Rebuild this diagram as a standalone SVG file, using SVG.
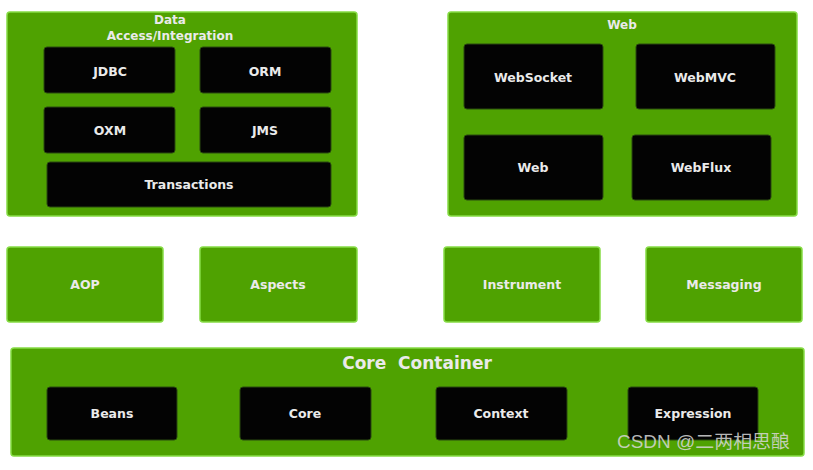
<svg xmlns="http://www.w3.org/2000/svg" width="813" height="470" viewBox="0 0 813 470">
<style>
.grp{fill:#4fa201;stroke:#86dc45;stroke-width:1.5}
.mod{fill:#4fa201;stroke:#86dc45;stroke-width:1.5}
.blk{fill:#030303;stroke:#2a4a10;stroke-width:1}
text{font-family:"DejaVu Sans","Liberation Sans",sans-serif;font-weight:bold;fill:#eaeaea;text-anchor:middle;dominant-baseline:central}
.t{font-size:12.5px}
.h{font-size:12px}
.big{font-size:17px}
.wm{font-family:"Liberation Sans","Noto Sans CJK SC",sans-serif;font-weight:normal;font-size:18px;fill:#d8d8d8;fill-opacity:0.85;text-anchor:start}
</style>
<rect width="813" height="470" fill="#ffffff"/>
<g id="data-access">
<rect class="grp" x="7" y="12" width="350" height="204" rx="3"/>
<text class="h" x="170" y="20">Data</text>
<text class="h" x="170" y="36">Access/Integration</text>
</g>
<g id="jdbc"><rect class="blk" x="44" y="47" width="131" height="46" rx="3"/><text class="t" x="110" y="71">JDBC</text></g>
<g id="orm"><rect class="blk" x="200" y="47" width="131" height="46" rx="3"/><text class="t" x="265" y="71">ORM</text></g>
<g id="oxm"><rect class="blk" x="44" y="107" width="131" height="46" rx="3"/><text class="t" x="110" y="130">OXM</text></g>
<g id="jms"><rect class="blk" x="200" y="107" width="131" height="46" rx="3"/><text class="t" x="265" y="130">JMS</text></g>
<g id="transactions"><rect class="blk" x="47" y="162" width="284" height="45" rx="3"/><text class="t" x="189" y="184">Transactions</text></g>

<g id="web-group">
<rect class="grp" x="448" y="12" width="349" height="204" rx="3"/>
<text class="h" x="622" y="25">Web</text>
</g>
<g id="websocket"><rect class="blk" x="464" y="44" width="139" height="65" rx="3"/><text class="t" x="533" y="77">WebSocket</text></g>
<g id="webmvc"><rect class="blk" x="636" y="44" width="139" height="65" rx="3"/><text class="t" x="705" y="77">WebMVC</text></g>
<g id="web"><rect class="blk" x="464" y="135" width="139" height="65" rx="3"/><text class="t" x="533" y="167">Web</text></g>
<g id="webflux"><rect class="blk" x="632" y="135" width="139" height="65" rx="3"/><text class="t" x="701" y="167">WebFlux</text></g>

<g id="aop"><rect class="mod" x="7" y="247" width="156" height="75" rx="3"/><text class="t" x="85" y="284">AOP</text></g>
<g id="aspects"><rect class="mod" x="200" y="247" width="157" height="75" rx="3"/><text class="t" x="278" y="284">Aspects</text></g>
<g id="instrument"><rect class="mod" x="444" y="247" width="156" height="75" rx="3"/><text class="t" x="522" y="284">Instrument</text></g>
<g id="messaging"><rect class="mod" x="646" y="247" width="156" height="75" rx="3"/><text class="t" x="724" y="284">Messaging</text></g>

<g id="core-container">
<rect class="grp" x="11" y="348" width="793" height="108" rx="3"/>
<text class="big" x="417" y="363" xml:space="preserve">Core  Container</text>
</g>
<g id="beans"><rect class="blk" x="47" y="387" width="130" height="53" rx="3"/><text class="t" x="112" y="413">Beans</text></g>
<g id="core"><rect class="blk" x="240" y="387" width="131" height="53" rx="3"/><text class="t" x="305" y="413">Core</text></g>
<g id="context"><rect class="blk" x="436" y="387" width="131" height="53" rx="3"/><text class="t" x="501" y="413">Context</text></g>
<g id="expression"><rect class="blk" x="628" y="387" width="130" height="53" rx="3"/><text class="t" x="693" y="413">Expression</text></g>

<g id="connectors"></g>
<text class="wm" x="617" y="442" textLength="173" lengthAdjust="spacingAndGlyphs">CSDN @二两相思酿</text>
</svg>
